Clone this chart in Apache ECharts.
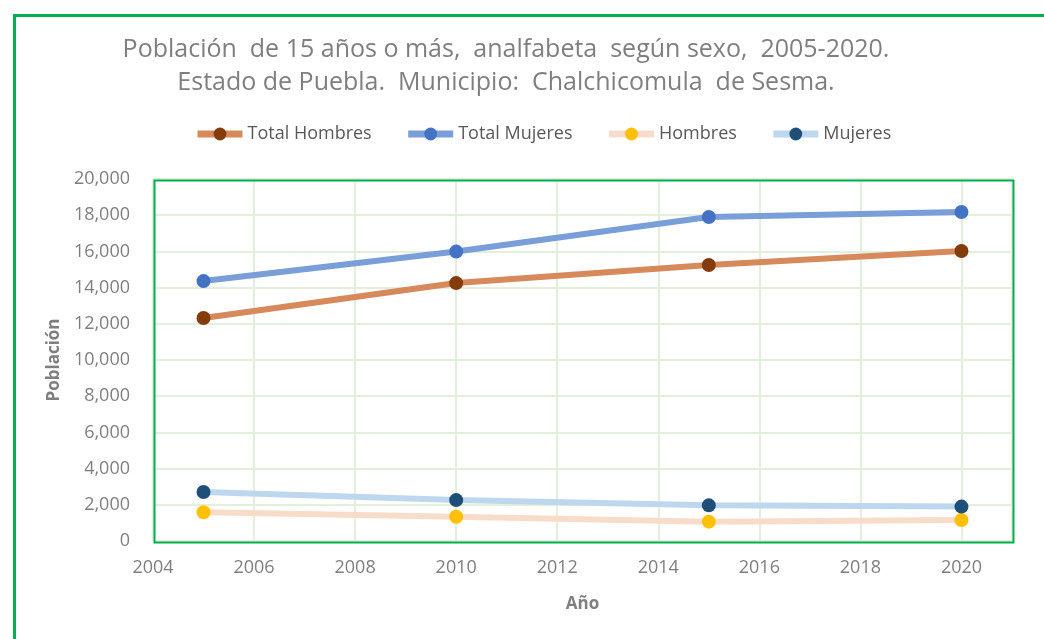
<!DOCTYPE html>
<html>
<head>
<meta charset="utf-8">
<script src="https://cdn.jsdelivr.net/npm/echarts@6/dist/echarts.min.js"></script>
<style>
  html, body { margin: 0; padding: 0; background: #fff; }
  #main { width: 1044px; height: 639px; }
</style>
</head>
<body>
<div id="main"></div>
<script>
// datos
var years = [2005, 2010, 2015, 2020];
var totalHombres = [12320, 14250, 15250, 16020];
var totalMujeres = [14360, 15990, 17900, 18180];
var hombres = [1590, 1340, 1070, 1160];
var mujeres = [2710, 2260, 1970, 1900];

// eje x: 2004 a 2021, etiquetas cada 2 anios
var xMin = 2004, xMax = 2021;

var chart = echarts.init(document.getElementById('main'));

function pares(vals) {
	return years.map(function (y, i) { return [y, vals[i]]; });
}

function serie(name, vals, lineColor, dotColor) {
	return {
		name: name,
		type: 'line',
		data: pares(vals),
		symbol: 'circle',
		symbolSize: 14,
		lineStyle: { width: 6, color: lineColor },
		itemStyle: { color: dotColor },
		emphasis: { disabled: true }
	};
}

var greyFont = 'Open Sans';
var gridBox = { left: 153, top: 179, right: 32, bottom: 98 };

var option = {
	animation: false,
	backgroundColor: '#fff',
	graphic: [{
		type: 'rect',
		left: 12, top: 13,
		shape: { width: 1100, height: 700 },
		style: { fill: 'none', stroke: '#00B050', lineWidth: 3 }
	}, {
		// borde verde del area de trazado, encima de la reticula
		type: 'rect',
		left: gridBox.left - 1, top: gridBox.top - 1, z: 1,
		shape: { width: 1044 - gridBox.left - gridBox.right, height: 639 - gridBox.top - gridBox.bottom },
		style: { fill: 'none', stroke: '#00B050', lineWidth: 2 }
	}],
	title: {
		text: 'Población  de 15 años o más,  analfabeta  según sexo,  2005-2020.\nEstado de Puebla.  Municipio:  Chalchicomula  de Sesma.',
		textAlign: 'center',
		left: 501,
		top: 28,
		textStyle: {
			fontFamily: greyFont,
			fontSize: 25,
			fontWeight: 'normal',
			color: '#7f7f7f',
			lineHeight: 33,
			align: 'center'
		}
	},
	legend: {
		left: 189,
		top: 120,
		itemWidth: 45,
		itemHeight: 16,
		itemGap: 33,
		lineStyle: { width: 7 },
		textStyle: { fontFamily: greyFont, fontSize: 18, color: '#595959' },
		data: ['Total Hombres', 'Total Mujeres', 'Hombres', 'Mujeres']
	},
	grid: {
		left: gridBox.left, right: gridBox.right, top: gridBox.top, bottom: gridBox.bottom,
		containLabel: false,
		outerBoundsMode: 'none'
	},
	xAxis: {
		type: 'value',
		min: xMin,
		max: xMax,
		interval: 2,
		name: 'Año',
		nameLocation: 'middle',
		nameGap: 55,
		nameTextStyle: { fontFamily: greyFont, fontSize: 17, fontWeight: 'bold', color: '#7f7f7f' },
		axisLine: { show: false },
		axisTick: { show: false },
		axisLabel: {
			margin: 18,
			fontFamily: greyFont, fontSize: 18, color: '#7f7f7f',
			formatter: function (v) { return v % 2 === 0 ? String(v) : ''; }
		},
		splitLine: { show: true, lineStyle: { color: '#E2EFDA', width: 2 } }
	},
	yAxis: {
		type: 'value',
		min: 0,
		max: 20000,
		interval: 2000,
		name: 'Población',
		nameLocation: 'middle',
		nameGap: 89,
		nameRotate: 90,
		nameTextStyle: { fontFamily: greyFont, fontSize: 17, fontWeight: 'bold', color: '#7f7f7f' },
		axisLine: { show: false },
		axisTick: { show: false },
		axisLabel: {
			margin: 23,
			fontFamily: greyFont, fontSize: 18, color: '#7f7f7f',
			formatter: function (v) { return v.toLocaleString('en-US'); }
		},
		splitLine: { show: true, lineStyle: { color: '#E2EFDA', width: 2 } }
	},
	series: [
		serie('Total Hombres', totalHombres, '#D6895A', '#843C0C'),
		serie('Total Mujeres', totalMujeres, '#7A9ED8', '#4472C4'),
		serie('Hombres', hombres, '#F8DCCA', '#FFC000'),
		serie('Mujeres', mujeres, '#BDD7EE', '#1F4E79')
	]
};

chart.setOption(option);
</script>
</body>
</html>
